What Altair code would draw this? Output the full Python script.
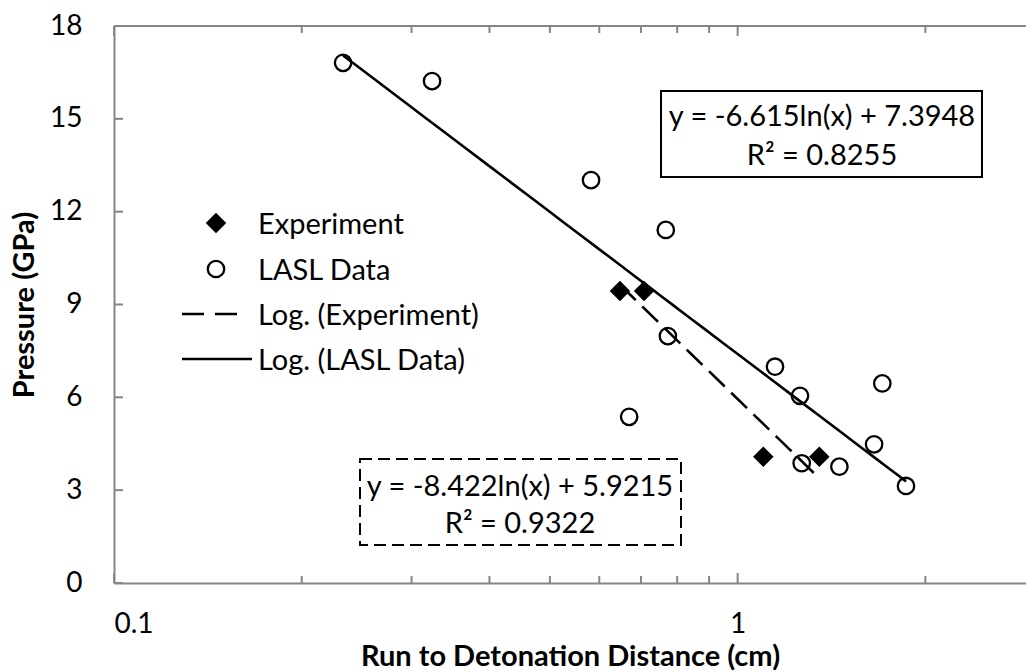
import altair as alt
import pandas as pd

# ---------------- data ----------------
lasl_x = [0.233, 0.3236, 0.582, 0.767, 0.773, 0.670, 1.148, 1.259, 1.706, 1.655, 1.267, 1.456, 1.862]
lasl_y = [16.81, 16.22, 13.02, 11.41, 7.98, 5.37, 6.99, 6.05, 6.45, 4.48, 3.87, 3.76, 3.135]
exp_x = [0.6476, 0.7078, 1.0995, 1.352]
exp_y = [9.44, 9.44, 4.08, 4.08]

x_minor_ticks = [0.2, 0.3, 0.4, 0.5, 0.6, 0.7, 0.8, 0.9, 2]
x_major_ticks = [0.1, 1]
y_ticks = [0, 3, 6, 9, 12, 15, 18]

legend_labels = ["Experiment", "LASL Data", "Log. (Experiment)", "Log. (LASL Data)"]
eq_lasl = ["y = -6.615ln(x) + 7.3948", "R\u00b2 = 0.8255"]
eq_exp = ["y = -8.422ln(x) + 5.9215", "R\u00b2 = 0.9322"]

x_title = "Run to Detonation Distance (cm)"
y_title = "Pressure (GPa)"

# ---------------- styling ----------------
FONT = "Lato"
FS = 29       # legend, equations, titles
FS_TICK = 28  # tick labels
GRAY = "#868686"
W, H = 912, 557

lasl = pd.DataFrame({"x": lasl_x, "y": lasl_y})
exp = pd.DataFrame({"x": exp_x, "y": exp_y})

x_scale = alt.Scale(type="log", domain=[0.1, 2.9], nice=False)
y_scale = alt.Scale(domain=[0, 18], nice=False, zero=False)

x_axis = alt.Axis(values=x_major_ticks, format="~g", ticks=False, tickSize=0, grid=False,
                  domainColor=GRAY, domainWidth=2, labelFont=FONT, labelFontSize=FS_TICK,
                  labelColor="black", labelPadding=27, title=x_title, titleFont=FONT,
                  titleFontSize=FS, titleFontWeight="bold", titleColor="black", titlePadding=4)
y_axis = alt.Axis(values=y_ticks, ticks=False, tickSize=0, grid=False,
                  domainColor=GRAY, domainWidth=2, labelFont=FONT, labelFontSize=FS_TICK,
                  labelColor="black", labelPadding=32, title=y_title, titleFont=FONT,
                  titleFontSize=FS, titleFontWeight="bold", titleColor="black", titlePadding=10)


def X(f="x"):
    return alt.X(f, type="quantitative", scale=x_scale, axis=x_axis)


def Y(f="y"):
    return alt.Y(f, type="quantitative", scale=y_scale, axis=y_axis)


# trendlines
lasl_fit = alt.Chart(lasl).transform_regression("x", "y", method="log").mark_line(
    color="black", strokeWidth=2.6).encode(x=X(), y=Y())
exp_fit = alt.Chart(exp).transform_regression("x", "y", method="log").mark_line(
    color="black", strokeWidth=2.6, strokeDash=[22, 9]).encode(x=X(), y=Y())

lasl_pts = alt.Chart(lasl).mark_point(shape="circle", size=270, filled=False, color="black",
                                      strokeWidth=2.3, opacity=1).encode(x=X(), y=Y())
exp_pts = alt.Chart(exp).mark_point(shape="diamond", size=420, filled=True, color="black",
                                    opacity=1).encode(x=X(), y=Y())

# inward ticks and top frame
minor_df = pd.DataFrame({"x": x_minor_ticks})
major_df = pd.DataFrame({"x": x_major_ticks})
yt_df = pd.DataFrame({"y": y_ticks})

tick_style = dict(color=GRAY, strokeWidth=2)
bot_minor = alt.Chart(minor_df).mark_rule(**tick_style).encode(x=X(), y=alt.value(H), y2=alt.value(H - 7))
bot_major = alt.Chart(major_df).mark_rule(**tick_style).encode(x=X(), y=alt.value(H), y2=alt.value(H - 10))
top_minor = alt.Chart(minor_df).mark_rule(**tick_style).encode(x=X(), y=alt.value(0), y2=alt.value(7))
top_major = alt.Chart(major_df).mark_rule(**tick_style).encode(x=X(), y=alt.value(0), y2=alt.value(10))
top_line = alt.Chart(major_df).mark_rule(**tick_style).encode(x=alt.value(0), x2=alt.value(W), y=alt.value(0))
y_tk = alt.Chart(yt_df).mark_rule(**tick_style).encode(y=Y(), x=alt.value(0), x2=alt.value(9))

# legend
leg = pd.DataFrame({"label": legend_labels})
LX_SYM, LX_TXT = 102, 144
leg_rows = [197, 243, 288, 333]
legend_layers = []
for i, lab in enumerate(legend_labels):
    legend_layers.append(
        alt.Chart(leg).transform_filter(alt.datum.label == lab).mark_text(
            font=FONT, fontSize=FS, align="left", baseline="middle", color="black"
        ).encode(x=alt.value(LX_TXT), y=alt.value(leg_rows[i] + 2), text="label:N")
    )
legend_layers.append(alt.Chart(leg).transform_filter(alt.datum.label == legend_labels[0]).mark_point(
    shape="diamond", size=420, filled=True, color="black", opacity=1).encode(
    x=alt.value(LX_SYM), y=alt.value(leg_rows[0])))
legend_layers.append(alt.Chart(leg).transform_filter(alt.datum.label == legend_labels[1]).mark_point(
    shape="circle", size=270, filled=False, color="black", strokeWidth=2.3, opacity=1).encode(
    x=alt.value(LX_SYM), y=alt.value(leg_rows[1])))
legend_layers.append(alt.Chart(leg).transform_filter(alt.datum.label == legend_labels[2]).mark_rule(
    color="black", strokeWidth=2.6, strokeDash=[22, 11]).encode(
    x=alt.value(68), x2=alt.value(128), y=alt.value(leg_rows[2])))
legend_layers.append(alt.Chart(leg).transform_filter(alt.datum.label == legend_labels[3]).mark_rule(
    color="black", strokeWidth=2.6).encode(
    x=alt.value(68), x2=alt.value(138), y=alt.value(leg_rows[3])))

# equation boxes
eq1 = pd.DataFrame({"t": eq_lasl, "i": [0, 1]})
eq2 = pd.DataFrame({"t": eq_exp, "i": [0, 1]})

box1 = alt.Chart(major_df).transform_filter(alt.datum.x == 1).mark_rect(
    fill="white", stroke="black", strokeWidth=2).encode(
    x=alt.value(547), x2=alt.value(868), y=alt.value(65), y2=alt.value(151))
box2 = alt.Chart(major_df).transform_filter(alt.datum.x == 1).mark_rect(
    fill="white", stroke="black", strokeWidth=2, strokeDash=[12, 6]).encode(
    x=alt.value(246), x2=alt.value(567), y=alt.value(433), y2=alt.value(519))

eq_layers = []
for df, cx, ys in [(eq1, 708, [100, 139]), (eq2, 406, [470, 507])]:
    for i in range(2):
        eq_layers.append(alt.Chart(df).transform_filter(alt.datum.i == i).mark_text(
            font=FONT, fontSize=FS, align="center", baseline="alphabetic", color="black"
        ).encode(x=alt.value(cx), y=alt.value(ys[i]), text="t:N"))

chart = alt.layer(
    top_line, bot_minor, bot_major, top_minor, top_major, y_tk,
    box1, box2, *eq_layers,
    exp_fit, lasl_fit, lasl_pts, exp_pts,
    *legend_layers,
).properties(
    width=W, height=H,
    autosize=alt.AutoSizeParams(type="none"),
    padding={"left": 114, "top": 26, "right": 0, "bottom": 89},
    background="white",
).configure_view(stroke=None)

chart.save("out.html", embed_options={"renderer": "svg", "actions": False})
